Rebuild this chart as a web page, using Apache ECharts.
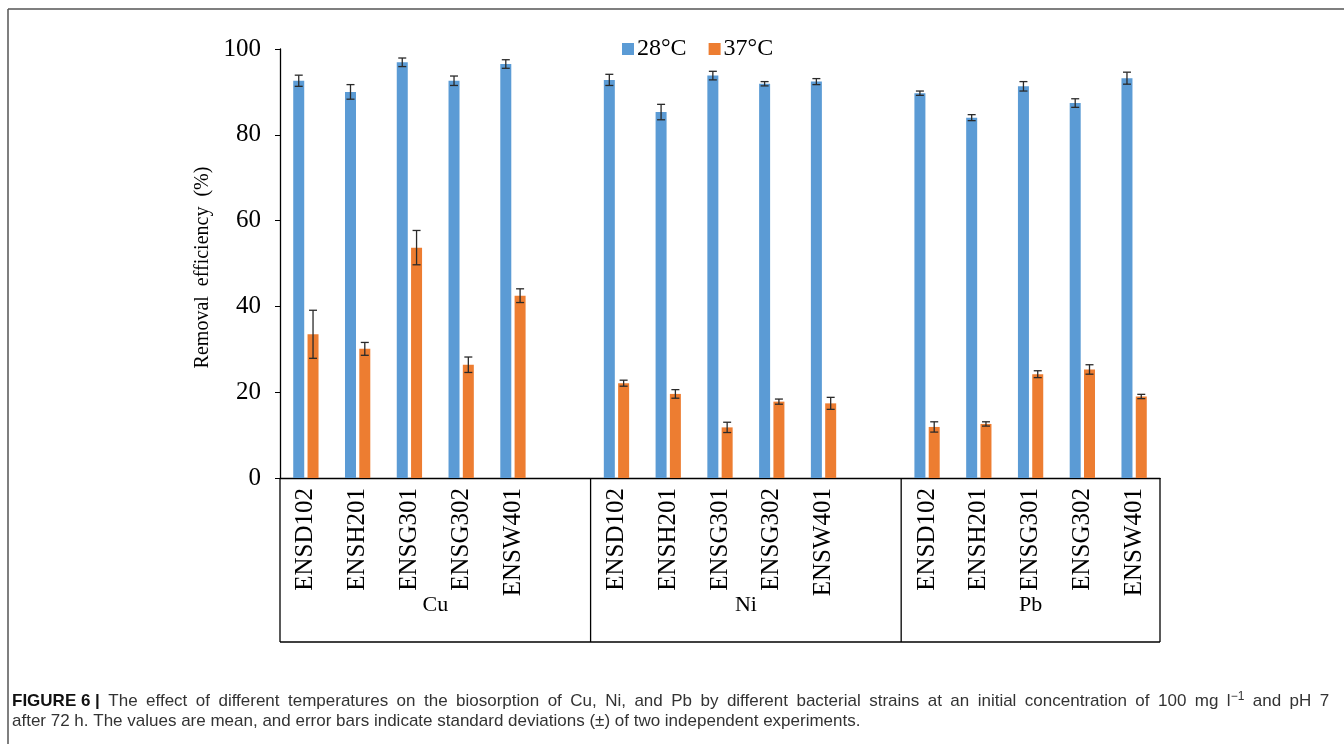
<!DOCTYPE html>
<html>
<head>
<meta charset="utf-8">
<script src="https://cdn.jsdelivr.net/npm/echarts@6/dist/echarts.min.js"></script>
<style>
html,body{margin:0;padding:0;background:#fff;}
#chart{width:1344px;height:744px;}
</style>
</head>
<body>
<div id="chart"></div>
<script>
// ---- data ----
const strains = ['ENSD102','ENSH201','ENSG301','ENSG302','ENSW401'];
const metals = ['Cu','Ni','Pb'];
const seriesNames = ['28°C','37°C'];
// mean removal efficiency (%) per metal, per strain
const t28Cu = [92.6, 90.0, 96.9, 92.6, 96.5];
const t28Ni = [92.8, 85.3, 93.8, 91.9, 92.4];
const t28Pb = [89.7, 84.0, 91.3, 87.4, 93.2];
const t37Cu = [33.5, 30.1, 53.7, 26.4, 42.5];
const t37Ni = [22.1, 19.6, 11.8, 17.8, 17.4];
const t37Pb = [11.9, 12.6, 24.2, 25.3, 19.0];
// standard deviations
const sd28Cu = [1.3, 1.7, 1.0, 1.1, 1.0];
const sd28Ni = [1.3, 1.8, 1.0, 0.5, 0.7];
const sd28Pb = [0.5, 0.7, 1.1, 1.0, 1.4];
const sd37Cu = [5.6, 1.5, 4.0, 1.8, 1.6];
const sd37Ni = [0.7, 1.0, 1.2, 0.6, 1.4];
const sd37Pb = [1.2, 0.5, 0.8, 1.1, 0.5];
const yTicks = [0, 20, 40, 60, 80, 100];

// build 17-slot category axis: 5 strains + blank + 5 + blank + 5
function slots(a, b, c) { return [...a, null, ...b, null, ...c]; }
const categories = slots(strains, strains, strains).map(v => v === null ? '' : v);
const v28 = slots(t28Cu, t28Ni, t28Pb);
const v37 = slots(t37Cu, t37Ni, t37Pb);
const e28 = slots(sd28Cu, sd28Ni, sd28Pb);
const e37 = slots(sd37Cu, sd37Ni, sd37Pb);

const BLUE = '#5B9BD5', ORANGE = '#ED7D31';
const BAR_W = 11, GAP = 3.3;
const OFF = (BAR_W + GAP) / 2;

function errData(vals, errs) {
  const out = [];
  vals.forEach((v, i) => { if (v !== null) out.push([i, v, errs[i]]); });
  return out;
}
function errRender(offset) {
  return function (params, api) {
    const i = api.value(0), m = api.value(1), s = api.value(2);
    const top = api.coord([i, m + s]);
    const bot = api.coord([i, m - s]);
    const x = top[0] + offset;
    const cap = 4;
    const st = { stroke: '#2a2a2a', lineWidth: 1.3 };
    return {
      type: 'group',
      children: [
        { type: 'line', shape: { x1: x, y1: top[1], x2: x, y2: bot[1] }, style: st },
        { type: 'line', shape: { x1: x - cap, y1: top[1], x2: x + cap, y2: top[1] }, style: st },
        { type: 'line', shape: { x1: x - cap, y1: bot[1], x2: x + cap, y2: bot[1] }, style: st }
      ]
    };
  };
}

const serif = 'Liberation Serif, Times New Roman, serif';
const chart = echarts.init(document.getElementById('chart'), null, { renderer: 'canvas' });
const GRID = { left: 280, right: 184, top: 49, bottom: 266 };

const option = {
  animation: false,
  backgroundColor: '#fff',
  legend: {
    data: seriesNames,
    left: 617, top: 32,
    itemWidth: 12, itemHeight: 12, itemGap: 22,
    icon: 'rect',
    textStyle: { fontFamily: serif, fontSize: 24, color: '#000', padding: [0, 0, 0, -2] }
  },
  grid: { left: GRID.left, right: GRID.right, top: GRID.top, bottom: GRID.bottom },
  xAxis: {
    type: 'category',
    data: categories,
    axisLine: { lineStyle: { color: '#000', width: 1.3 } },
    axisTick: { show: false },
    axisLabel: { rotate: 90, interval: 0, fontFamily: serif, fontSize: 25, color: '#000', margin: 10 }
  },
  yAxis: {
    type: 'value', min: yTicks[0], max: yTicks[yTicks.length - 1], interval: 20,
    name: 'Removal  efficiency  (%)',
    nameLocation: 'middle', nameGap: 61, nameRotate: 90,
    nameTextStyle: { fontFamily: serif, fontSize: 20, color: '#000', padding: [0, 0, 0, -8] },
    axisLine: { show: true, lineStyle: { color: '#000', width: 1.3 } },
    axisTick: { show: true, length: 5, lineStyle: { color: '#000' } },
    axisLabel: { fontFamily: serif, fontSize: 25, color: '#000', margin: 19 },
    splitLine: { show: false }
  },
  series: [
    { name: seriesNames[0], type: 'bar', data: v28, barWidth: BAR_W, barGap: (GAP / BAR_W * 100) + '%', itemStyle: { color: BLUE } },
    { name: seriesNames[1], type: 'bar', data: v37, barWidth: BAR_W, itemStyle: { color: ORANGE } },
    { type: 'custom', renderItem: errRender(-OFF), data: errData(v28, e28), z: 5, silent: true },
    { type: 'custom', renderItem: errRender(OFF), data: errData(v37, e37), z: 5, silent: true }
  ]
};
chart.setOption(option);

// group separators and metal labels, positioned from the category axis
const y0 = chart.convertToPixel({ yAxisIndex: 0 }, 0);
const bandW = chart.convertToPixel({ xAxisIndex: 0 }, 1) - chart.convertToPixel({ xAxisIndex: 0 }, 0);
const boundaries = [0, 6, 12, 17].map(k => chart.convertToPixel({ xAxisIndex: 0 }, 0) - bandW / 2 + k * bandW);
const boxBottom = 642;
const g = [];
boundaries.forEach(x => g.push({ type: 'line', shape: { x1: x, y1: y0, x2: x, y2: boxBottom }, style: { stroke: '#000', lineWidth: 1.3 } }));
g.push({ type: 'line', shape: { x1: boundaries[0], y1: boxBottom, x2: boundaries[3], y2: boxBottom }, style: { stroke: '#000', lineWidth: 1.3 } });
metals.forEach((m, k) => {
  g.push({ type: 'text', x: (boundaries[k] + boundaries[k + 1]) / 2, y: 605,
    style: { text: m, fontFamily: serif, fontSize: 22, fill: '#000', align: 'center', verticalAlign: 'middle' } });
});
// figure frame (left + top)
g.push({ type: 'line', shape: { x1: 8, y1: 9, x2: 1344, y2: 9 }, style: { stroke: '#555', lineWidth: 1.5 } });
g.push({ type: 'line', shape: { x1: 8, y1: 9, x2: 8, y2: 744 }, style: { stroke: '#555', lineWidth: 1.5 } });
// caption (first line justified to full width)
const capFont = 'Liberation Sans, Arial, sans-serif';
const CAP = 17;
const line1Words = 'The effect of different temperatures on the biosorption of Cu, Ni, and Pb by different bacterial strains at an initial concentration of 100 mg l{sup|−1} and pH 7'.split(' ');
g.push({ type: 'text', left: 12, top: 691,
  style: {
    text: '{b|FIGURE 6 |}{s| }' + line1Words.join('{s| }'),
    fontFamily: capFont, fontSize: CAP, fill: '#333',
    rich: {
      b: { fontFamily: capFont, fontSize: CAP, fontWeight: 'bold', fill: '#111' },
      s: { fontFamily: capFont, fontSize: CAP, width: 8.45 },
      sup: { fontFamily: capFont, fontSize: 12, fill: '#333', verticalAlign: 'top', padding: [0, 0, 8, 0] }
    }
  } });
g.push({ type: 'text', left: 12, top: 713,
  style: { text: 'after 72 h. The values are mean, and error bars indicate standard deviations (±) of two independent experiments.',
    fontFamily: capFont, fontSize: CAP, fill: '#333' } });
chart.setOption({ graphic: g });
</script>
</body>
</html>
